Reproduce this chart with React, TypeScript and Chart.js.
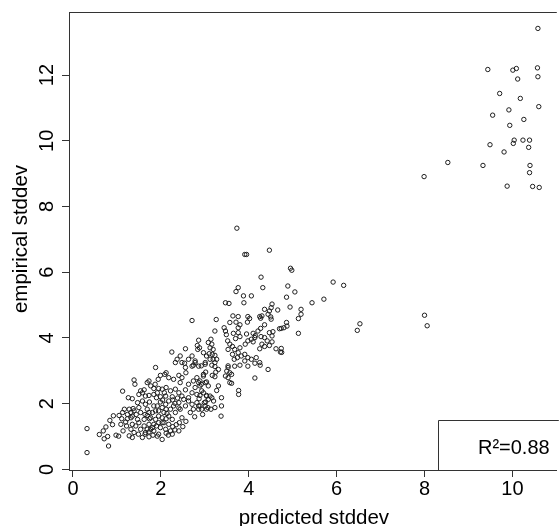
import { useEffect, useRef } from 'react';
import { Chart, registerables } from 'chart.js';

Chart.register(...registerables);

// Axis limits and tick values
const X_MIN = -0.09;
const X_MAX = 11.01;
const Y_MIN = -0.02;
const Y_MAX = 13.92;
const xTickValues = [0, 2, 4, 6, 8, 10];
const yTickValues = [0, 2, 4, 6, 8, 10, 12];

const xTitle = 'predicted stddev';
const yTitle = 'empirical stddev';
const r2Label = 'R²=0.88';

// [predicted, empirical] pairs
const highGroup: number[][] = [
  [10.58, 13.42], [9.44, 12.17], [10.01, 12.15], [10.09, 12.2], [10.57, 12.22], [10.12, 11.88],
  [10.58, 11.95], [9.71, 11.44], [10.18, 11.29], [10.6, 11.04], [9.92, 10.94], [9.55, 10.78],
  [10.26, 10.65], [9.94, 10.47], [10.04, 10.02], [10.02, 9.92], [10.24, 10.02], [10.39, 10.02],
  [9.49, 9.88], [10.37, 9.8], [9.81, 9.66], [8.53, 9.34], [9.33, 9.25], [10.4, 9.25],
  [10.39, 9.03], [7.99, 8.91], [9.88, 8.62], [10.46, 8.61], [10.61, 8.58],
];

const sparsePoints: number[][] = [
  [8.0, 4.69], [8.06, 4.37], [6.47, 4.23], [6.53, 4.43], [3.73, 7.34], [3.91, 6.54], [3.95, 6.54],
  [4.47, 6.67],
];

const upperBand: number[][] = [
  [5.92, 5.7], [6.16, 5.6], [5.71, 5.18], [5.44, 5.07], [4.95, 6.12], [4.98, 6.06], [4.89, 5.58],
  [5.05, 5.4], [4.86, 5.24], [4.94, 4.94], [5.19, 4.87], [5.19, 4.72], [5.13, 4.59], [4.66, 4.85],
  [4.86, 4.47], [4.87, 4.36], [4.8, 4.31], [4.74, 4.29], [4.7, 4.28], [5.13, 4.14], [4.74, 3.68],
  [4.75, 3.56], [4.72, 3.57],
  [4.28, 5.85], [4.32, 5.53], [4.53, 5.03], [4.51, 4.92], [4.36, 4.87], [4.47, 4.82], [4.44, 4.72],
  [4.5, 4.64], [4.51, 4.57], [4.3, 4.67], [4.25, 4.65], [4.27, 4.6], [4.27, 4.29], [4.28, 4.04],
  [4.36, 4.01], [4.47, 4.16], [4.55, 4.19], [4.53, 4.06], [4.42, 3.91], [4.53, 3.88], [4.47, 3.77],
  [4.62, 3.67], [4.25, 3.67],
];

const middleBand: number[][] = [
  [3.76, 5.53], [3.71, 5.41], [3.88, 5.28], [4.06, 5.28], [3.89, 5.07], [3.47, 5.07], [3.55, 5.05],
  [2.71, 4.53], [3.26, 4.56], [3.64, 4.67], [3.76, 4.65], [3.71, 4.48], [3.57, 4.47], [3.8, 4.4],
  [3.76, 4.31], [3.98, 4.65], [4.02, 4.59], [3.97, 4.48], [4.36, 4.4], [3.44, 4.31], [3.47, 4.21],
  [3.49, 4.1], [3.23, 4.21], [3.65, 4.14], [3.76, 4.16], [3.7, 3.98], [3.8, 4.04], [3.95, 4.12],
  [4.1, 4.14], [4.06, 3.96], [4.14, 4.01], [3.98, 3.91], [3.92, 3.81], [4.1, 3.88], [4.21, 4.21],
  [4.15, 4.07], [4.3, 3.81], [4.36, 3.74], [2.86, 3.93], [2.83, 3.77], [2.88, 3.7], [2.84, 3.65],
  [3.08, 3.86], [3.14, 3.96], [3.16, 3.81], [3.12, 3.7], [3.19, 3.65], [3.17, 3.5], [3.1, 3.52],
  [3.23, 3.47], [3.04, 3.45], [3.27, 3.35], [3.19, 3.35], [3.12, 3.35], [3.23, 3.25], [3.52, 3.91],
  [3.57, 3.81], [3.53, 3.65], [3.63, 3.74], [3.68, 3.65], [3.63, 3.5], [3.76, 3.55], [3.8, 3.7],
  [3.74, 3.4], [3.67, 3.35], [3.83, 3.45], [3.91, 3.5], [3.98, 3.4], [4.06, 3.35], [4.17, 3.4],
  [3.91, 3.3], [4.14, 3.23], [4.25, 3.25], [3.98, 3.14], [3.8, 3.17], [2.25, 3.57], [2.37, 3.35],
  [2.44, 3.45], [2.56, 3.67], [2.63, 3.35], [2.71, 3.45], [2.78, 3.25], [2.97, 3.55], [3.01, 3.25],
  [2.86, 3.14], [2.71, 3.14], [2.48, 3.25], [2.33, 3.25], [2.56, 3.1], [1.88, 3.1], [3.53, 3.1],
  [3.68, 3.14],
  [3.37, 1.62], [3.38, 1.93], [3.31, 2.54], [3.27, 2.4], [3.77, 2.4], [3.77, 2.28], [4.14, 2.78],
  [4.44, 3.04], [4.26, 3.17],
  [3.16, 3.17], [3.23, 3.13], [3.01, 3.2], [2.92, 3.15], [3.31, 3.04], [3.25, 2.96], [3.17, 2.86],
  [3.23, 2.82], [2.97, 2.84], [3.02, 2.96], [2.89, 2.69], [2.92, 2.59], [3.04, 2.66], [3.08, 2.54],
  [3.53, 3.15], [3.5, 2.99], [3.57, 2.94], [3.47, 2.84], [3.61, 2.89], [3.53, 2.79], [3.57, 2.64],
  [3.61, 2.62], [2.89, 2.25], [3.04, 2.25], [3.12, 2.23], [3.16, 2.18], [3.08, 2.13], [3.02, 2.05],
  [3.38, 2.18], [2.86, 1.93], [2.93, 1.83], [3.07, 1.88], [3.14, 1.83], [3.2, 2.08], [3.23, 1.88],
];

const lowerBand: number[][] = [
  [0.32, 1.24], [0.32, 0.51], [0.6, 1.06], [0.69, 1.17], [0.75, 1.29], [0.71, 0.93], [0.79, 1.0],
  [0.81, 0.71], [0.84, 1.49], [0.9, 1.36], [0.92, 1.63], [0.98, 1.04], [1.04, 1.01], [1.13, 2.38],
  [2.54, 3.23], [2.74, 3.17], [2.78, 3.3], [2.12, 2.94], [1.99, 2.86], [2.09, 2.89], [2.41, 2.86],
  [2.57, 2.94], [2.97, 2.89], [2.82, 2.79], [2.48, 2.79], [2.18, 2.79], [1.94, 2.74], [2.29, 2.74],
  [1.39, 2.72], [1.73, 2.69], [1.41, 2.59], [1.69, 2.64], [1.77, 2.54], [1.87, 2.59], [2.44, 2.64],
  [2.63, 2.59], [2.74, 2.69], [2.86, 2.64], [3.01, 2.64], [1.58, 2.33], [1.54, 2.39], [1.62, 2.42],
  [1.5, 2.28], [1.95, 2.46], [2.03, 2.44], [2.12, 2.49], [2.22, 2.39], [2.33, 2.44], [2.41, 2.33],
  [2.56, 2.42], [2.71, 2.33], [2.82, 2.28], [2.93, 2.39], [3.04, 2.23], [1.26, 2.18], [1.35, 2.15],
  [1.73, 2.25], [1.84, 2.28], [1.9, 2.18], [2.11, 2.23], [2.26, 2.21], [2.48, 2.23], [2.63, 2.18],
  [2.87, 2.15], [2.99, 2.03], [2.89, 1.93], [3.04, 1.83],
  [1.13, 1.73], [1.17, 1.83], [1.24, 1.67], [1.28, 1.83], [1.32, 1.57], [1.47, 2.03], [1.05, 1.64],
  [1.11, 1.54], [1.35, 1.62], [1.39, 1.78], [1.44, 1.67], [1.54, 1.73], [1.64, 1.67], [1.69, 1.83],
  [1.73, 1.73], [1.65, 1.98], [1.74, 2.05], [1.84, 1.93], [1.88, 1.78], [1.99, 2.05], [2.03, 1.88],
  [2.07, 1.73], [1.95, 1.62], [2.11, 1.98], [2.18, 2.08], [2.22, 1.83], [2.29, 1.93], [2.33, 1.73],
  [2.41, 2.03], [2.44, 1.83], [2.48, 1.57], [2.56, 1.93], [2.63, 2.08], [2.71, 1.98], [2.74, 1.83],
  [2.82, 2.03], [2.18, 1.62], [2.26, 1.52], [1.77, 1.57], [1.62, 1.52], [1.88, 1.52], [2.12, 1.54],
  [1.2, 1.44], [1.22, 1.32], [1.32, 1.22], [1.28, 1.02], [1.35, 0.97], [1.39, 1.12], [1.43, 1.32],
  [1.5, 1.42], [1.54, 1.22], [1.49, 1.07], [1.62, 1.32], [1.65, 1.12], [1.73, 1.37], [1.77, 1.22],
  [1.84, 1.17], [1.9, 1.32], [1.99, 1.27], [1.95, 1.07], [2.07, 1.42], [2.18, 1.37], [2.22, 1.17],
  [2.17, 1.04], [2.03, 0.91], [1.92, 1.01], [1.58, 0.97], [1.14, 1.17], [1.73, 0.99], [1.82, 1.04],
];

// Overlapping points in the densest part of the cloud
const denseCore: number[][] = [
  [1.32, 1.73], [1.37, 1.85], [1.69, 1.64], [1.74, 1.54], [1.81, 1.73], [1.99, 2.21], [2.04, 2.11],
  [2.08, 2.33], [2.27, 2.11], [2.32, 2.01], [2.38, 2.17], [2.41, 1.87], [2.35, 1.36], [2.27, 1.3],
  [2.32, 1.2], [2.42, 1.42], [2.5, 1.3], [2.57, 1.46], [2.67, 1.73], [2.77, 1.6], [2.86, 1.83],
  [2.95, 1.67], [3.01, 1.93], [2.52, 2.13], [2.78, 2.49], [2.89, 2.54], [2.97, 2.33], [1.84, 2.46],
  [1.92, 2.33], [1.65, 2.23], [1.58, 2.08], [1.5, 1.88], [1.47, 1.52], [1.35, 1.37], [1.24, 1.54],
  [1.09, 1.37], [1.92, 1.93], [1.95, 1.78], [2.12, 1.83], [2.14, 1.7], [2.03, 1.57], [2.03, 1.42],
  [1.95, 1.42], [1.84, 1.37], [1.81, 1.27], [1.69, 1.22], [1.64, 1.07], [1.73, 1.14], [2.11, 1.22],
  [2.12, 1.1], [2.26, 1.07], [2.41, 1.17],
];

const FONT = "'Liberation Sans', Arial, Helvetica, sans-serif";
const INK = '#000';
const FRAME = '#333';

// Draws the R-style frame, rotated y labels, titles and the R² box
const rDecorations = {
  id: 'rDecorations',
  afterDraw(chart: any) {
    const { ctx, chartArea: a } = chart;
    const xs = chart.scales.x;
    const ys = chart.scales.y;
    ctx.save();
    ctx.strokeStyle = FRAME;
    ctx.lineWidth = 1;
    ctx.beginPath();
    ctx.moveTo(a.left, Math.round(a.top) + 0.5);
    ctx.lineTo(a.right, Math.round(a.top) + 0.5);
    ctx.stroke();

    // legend box in the bottom-right corner
    const boxLeft = Math.round(a.right - 119) + 0.5;
    const boxTop = Math.round(a.bottom - 50) + 0.5;
    ctx.beginPath();
    ctx.moveTo(boxLeft, a.bottom);
    ctx.lineTo(boxLeft, boxTop);
    ctx.lineTo(a.right + 2, boxTop);
    ctx.stroke();

    ctx.fillStyle = INK;
    ctx.textAlign = 'center';
    ctx.textBaseline = 'alphabetic';
    ctx.font = `20px ${FONT}`;
    xs.ticks.forEach((t: any) => {
      ctx.fillText(String(t.value), xs.getPixelForValue(t.value), a.bottom + 25);
    });
    ys.ticks.forEach((t: any) => {
      const y = ys.getPixelForValue(t.value);
      ctx.save();
      ctx.translate(a.left - 16, y);
      ctx.rotate(-Math.PI / 2);
      ctx.fillText(String(t.value), 0, 0);
      ctx.restore();
    });

    ctx.font = `20.5px ${FONT}`;
    ctx.fillText(xTitle, (a.left + a.right) / 2 + 1, 524);
    ctx.save();
    ctx.translate(27, (a.top + a.bottom) / 2 - 2);
    ctx.rotate(-Math.PI / 2);
    ctx.fillText(yTitle, 0, 0);
    ctx.restore();

    ctx.font = `20px ${FONT}`;
    ctx.fillText(r2Label, a.right - 43, a.bottom - 16);
    ctx.restore();
  },
};

export default function App() {
  const canvasRef = useRef<HTMLCanvasElement | null>(null);

  useEffect(() => {
    const canvas = canvasRef.current;
    if (!canvas) return;
    const points = [
      ...lowerBand,
      ...denseCore,
      ...middleBand,
      ...upperBand,
      ...sparsePoints,
      ...highGroup,
    ].map(([x, y]) => ({ x, y }));
    const axisGrid = {
      drawOnChartArea: false,
      drawTicks: true,
      tickLength: 7,
      color: FRAME,
      lineWidth: 1,
    };
    const chart = new Chart(canvas, {
      type: 'scatter',
      data: {
        datasets: [
          {
            data: points,
            pointRadius: 2.2,
            pointBorderWidth: 1,
            pointBorderColor: '#1e1e1e',
            pointBackgroundColor: 'rgba(0,0,0,0)',
            pointHoverRadius: 2.2,
          },
        ],
      },
      options: {
        responsive: false,
        animation: false,
        events: [],
        layout: { padding: { top: 12, right: 0, bottom: 0, left: 0 } },
        plugins: { legend: { display: false }, tooltip: { enabled: false } },
        scales: {
          x: {
            type: 'linear',
            min: X_MIN,
            max: X_MAX,
            afterBuildTicks: (s: any) => {
              s.ticks = xTickValues.map((v) => ({ value: v }));
            },
            afterFit: (s: any) => {
              s.height = 56;
            },
            ticks: { display: false },
            grid: axisGrid,
            border: { display: true, color: FRAME, width: 1 },
          },
          y: {
            type: 'linear',
            min: Y_MIN,
            max: Y_MAX,
            afterBuildTicks: (s: any) => {
              s.ticks = yTickValues.map((v) => ({ value: v }));
            },
            afterFit: (s: any) => {
              s.width = 69;
            },
            ticks: { display: false },
            grid: axisGrid,
            border: { display: true, color: FRAME, width: 1 },
          },
        },
      },
      plugins: [rDecorations],
    });
    return () => chart.destroy();
  }, []);

  return (
    <div style={{ position: 'absolute', left: 0, top: 0, width: 560, height: 526, background: '#fff' }}>
      <canvas ref={canvasRef} width={560} height={526} style={{ width: 560, height: 526, display: 'block' }} />
    </div>
  );
}
